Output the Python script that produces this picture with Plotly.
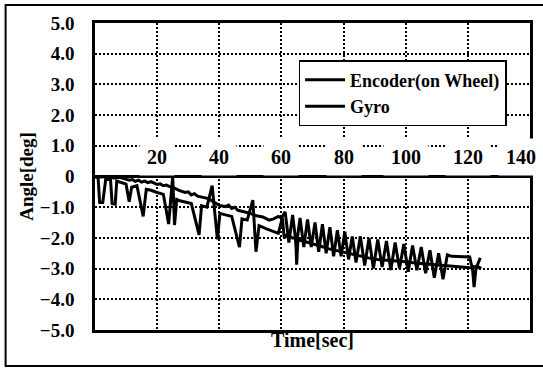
import plotly.graph_objects as go

# ---------------- data ----------------
encoder_t = [0, 2, 4, 6, 8, 10, 11, 12, 13, 14, 15, 16, 17, 18, 19, 20, 21, 22, 23, 24, 25,
             27, 29, 30, 31, 32, 33, 35, 36.5, 38.5, 40, 42, 43, 44, 45, 46, 48, 50, 52, 54,
             56, 57.5, 59, 60.0,
             61.2, 62.4, 63.6, 64.8, 66.0, 67.2, 68.4, 69.6, 70.8, 72.0, 73.2, 74.4, 75.6,
             76.8, 78.0, 79.2, 80.4, 81.6, 82.8, 84.0, 85.4,
             86.8, 88.2, 89.6, 91.0, 92.4, 93.8, 95.2, 96.6, 98.0, 99.4, 100.8, 102.2,
             103.6, 105.0, 106.4, 107.8, 109.2, 110.6, 112.0, 113.4, 114.7,
             120.6, 121.2, 122.0, 123.0, 124.0]
encoder_v = [0, -0.02, 0.0, -0.05, -0.03, -0.08, -0.12, -0.1, -0.16, -0.12, -0.18, -0.15,
             -0.2, -0.17, -0.22, -0.26, -0.24, -0.3, -0.28, -0.33, -0.35,
             -0.45, -0.52, -0.5, -0.6, -0.56, -0.64, -0.68, -0.72, -0.85, -0.94, -0.98,
             -0.93, -1.04, -1.0, -1.1, -1.15, -1.2, -1.28, -1.32,
             -1.42, -1.38, -1.3, -1.35,
             -1.15, -2.15, -1.25, -2.25, -1.35, -2.3, -1.4, -2.3, -1.5, -2.45, -1.55, -2.5,
             -1.65, -2.6, -1.75, -2.6, -1.8, -2.7, -1.95, -2.8, -1.95,
             -2.9, -2.0, -3.0, -2.05, -2.95, -2.1, -3.05, -2.15, -3.0, -2.2, -3.1, -2.25,
             -3.05, -2.3, -3.15, -2.4, -3.3, -2.5, -3.35, -2.55, -2.6,
             -2.62, -2.9, -2.95, -2.9, -2.65]

gyro_t = [0, 1.0, 1.5, 2.5, 3.5, 5.0, 5.5, 6.5, 7.0, 9.0, 10.0, 11.0, 11.8, 13.5, 15.5,
          16.5, 18, 20, 22, 23.7, 24.3, 25.0, 25.6, 26.3, 27, 29, 31, 33.5, 34.3, 36,
          37.7, 39.4, 40.2, 42, 44, 46.5, 47.3, 49, 50.8, 51.8, 52.8, 55, 57, 59,
          60.3, 60.9, 61.8, 63.5, 64.6, 64.9, 65.3, 67, 69, 71, 73, 75, 77, 79, 81, 83,
          85, 88, 91, 94, 97, 100, 103, 106, 109, 112, 115, 118, 120.5, 121.5, 122.0,
          122.6, 123.5, 124.3]
gyro_v = [0, -0.05, -0.85, -0.85, -0.05, -0.1, -0.88, -0.9, -0.15, -0.2, -0.25, -0.82,
          -0.35, -0.3, -1.3, -0.42, -0.45, -0.52, -0.58, -1.55, -0.7, 0.0, -1.58, -0.75,
          -0.78, -0.82, -0.88, -1.9, -0.95, -1.0,
          -0.3, -2.05, -1.2, -1.25, -1.3, -2.3, -1.38, -1.42, -0.77, -2.45, -1.6, -1.7,
          -1.78, -1.85,
          -1.35, -2.0, -1.9, -2.0, -2.0, -2.87, -2.05, -2.1, -2.15, -2.2, -2.28, -2.35,
          -2.4, -2.45, -2.5, -2.55, -2.6, -2.65, -2.7, -2.72, -2.75, -2.78, -2.82, -2.85,
          -2.88, -2.9, -2.93, -2.95, -2.97, -3.0, -3.6, -3.0, -2.95, -3.0]

x_tick_vals = [20, 40, 60, 80, 100, 120, 140]
x_tick_text = ["20", "40", "60", "80", "100", "120", "140"]
y_tick_vals = [5, 4, 3, 2, 1, 0, -1, -2, -3, -4, -5]
y_tick_text = ["5.0", "4.0", "3.0", "2.0", "1.0", "0", "\u22121.0", "\u22122.0",
               "\u22123.0", "\u22124.0", "\u22125.0"]

# ---------------- figure ----------------
FONT = "Liberation Serif, Times New Roman, serif"

fig = go.Figure()
fig.add_trace(go.Scatter(x=encoder_t, y=encoder_v, mode="lines", name="Encoder(on Wheel)",
                         line=dict(color="black", width=3)))
fig.add_trace(go.Scatter(x=gyro_t, y=gyro_v, mode="lines", name="Gyro",
                         line=dict(color="black", width=3)))

# x tick labels sit just above the zero line on white boxes
for v, txt in zip(x_tick_vals, x_tick_text):
    fig.add_annotation(x=v, y=0, xref="x", yref="y", text=txt, showarrow=False,
                       yanchor="bottom", xanchor="center", yshift=1,
                       xshift=(-9 if v == x_tick_vals[-1] else 0),
                       bgcolor="white", borderpad=7,
                       font=dict(family=FONT, size=20, color="black", weight="bold"))

# outer frame around the whole figure (right edge runs off the picture)
fig.add_shape(type="rect", xref="paper", yref="paper",
              x0=-0.2055, x1=1.05, y0=-0.117, y1=1.0586,
              line=dict(color="black", width=2), fillcolor="rgba(0,0,0,0)")

fig.update_xaxes(range=[0, 140], tickvals=x_tick_vals[:-1], showticklabels=False,
                 showgrid=True, gridcolor="black", gridwidth=2, griddash="2px,2px",
                 showline=True, linecolor="black", linewidth=2.5, mirror=True,
                 zeroline=False, ticks="",
                 title=dict(text="Time[sec]", standoff=2,
                            font=dict(family=FONT, size=20, color="black", weight="bold")))
fig.update_yaxes(range=[-5, 5], tickvals=y_tick_vals, ticktext=y_tick_text,
                 showgrid=True, gridcolor="black", gridwidth=2, griddash="2px,2px",
                 showline=True, linecolor="black", linewidth=2.5, mirror=True,
                 zeroline=True, zerolinecolor="black", zerolinewidth=3,
                 ticks="outside", ticklen=14, tickcolor="rgba(0,0,0,0)",
                 tickfont=dict(family=FONT, size=19, color="black", weight="bold"),
                 title=dict(text="Angle[deg]", standoff=2,
                            font=dict(family=FONT, size=19, color="black", weight="bold")))

fig.update_layout(
    width=543, height=370,
    margin=dict(l=95, r=10, t=23, b=40),
    paper_bgcolor="white", plot_bgcolor="white",
    showlegend=True,
    legend=dict(x=0.468, y=0.879, xanchor="left", yanchor="top",
                bgcolor="white", bordercolor="black", borderwidth=1.5,
                font=dict(family=FONT, size=18, color="black", weight="bold"),
                itemwidth=40, tracegroupgap=0),
)

fig.write_html("out.html",
               config={"displayModeBar": False},
               post_script="document.body.style.margin='0';document.body.style.overflow='hidden';")
